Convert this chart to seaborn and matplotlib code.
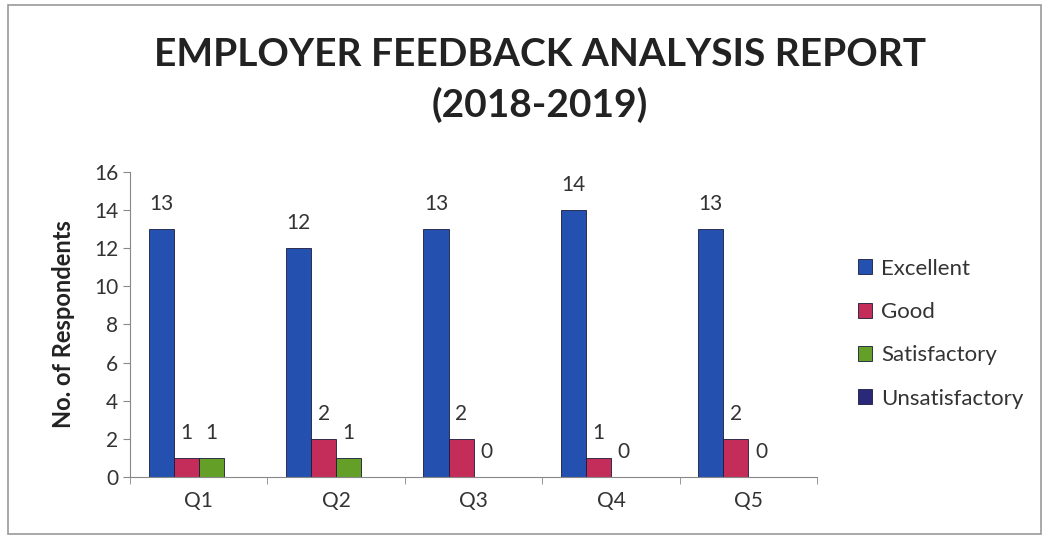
import numpy as np
import pandas as pd
import matplotlib
matplotlib.use("Agg")
import matplotlib.pyplot as plt
import seaborn as sns
from matplotlib.patches import Rectangle

questions = ["Q1", "Q2", "Q3", "Q4", "Q5"]
ratings = ["Excellent", "Good", "Satisfactory", "Unsatisfactory"]
excellent = [13, 12, 13, 14, 13]
good = [1, 2, 2, 1, 2]
satisfactory = [1, 1, 0, 0, 0]
unsatisfactory = [np.nan, np.nan, np.nan, np.nan, np.nan]

colors = ["#2450b0", "#c42c5a", "#64a028", "#2a2878"]

df = pd.DataFrame({
    "question": questions * 4,
    "rating": np.repeat(ratings, len(questions)),
    "count": excellent + good + satisfactory + unsatisfactory,
})

sns.set_style("white")
plt.rcParams["font.family"] = ["Lato", "DejaVu Sans"]

fig = plt.figure(figsize=(10.49, 5.39), dpi=100)
ax = fig.add_axes([0.124, 0.115, 0.655, 0.566])

sns.barplot(data=df, x="question", y="count", hue="rating", hue_order=ratings,
            palette=colors, saturation=1, errorbar=None, width=0.73, ax=ax,
            edgecolor="#1a1a3a", linewidth=0.6)

for cont in ax.containers:
    ax.bar_label(cont, fmt="%g", padding=11, fontsize=15, color="#333333")

ax.set_ylim(0, 16)
ax.set_yticks(range(0, 17, 2))
ax.set_xlim(-0.5, 4.5)
ax.set_xlabel("")
ax.set_ylabel("No. of Respondents", fontsize=17, fontweight="bold", color="#222222",
              labelpad=14)
ax.tick_params(axis="y", labelsize=15, colors="#333333", length=5, direction="out", left=True)
ax.tick_params(axis="x", labelsize=15, colors="#333333", length=0, pad=10)
ax.set_xticks(np.arange(-0.5, 5, 1), minor=True)
ax.tick_params(axis="x", which="minor", length=5, direction="out", bottom=True, color="#888888")
ax.tick_params(axis="y", color="#888888")
sns.despine(ax=ax)
for s in ["left", "bottom"]:
    ax.spines[s].set_color("#888888")

leg = ax.legend(loc="center left", bbox_to_anchor=(1.03, 0.47), frameon=False,
                fontsize=16, handlelength=0.65, handleheight=0.65, labelspacing=1.05,
                handletextpad=0.4)
for t in leg.get_texts():
    t.set_color("#333333")

fig.text(0.515, 0.898, "EMPLOYER FEEDBACK ANALYSIS REPORT", ha="center", va="center",
         fontsize=28, fontweight="bold", color="#222222")
fig.text(0.515, 0.805, "(2018-2019)", ha="center", va="center",
         fontsize=28, fontweight="bold", color="#222222")

fig.patches.append(Rectangle((0.008, 0.01), 0.984, 0.98, transform=fig.transFigure,
                             fill=False, edgecolor="#999999", linewidth=1.2))

fig.savefig("out.png", dpi=100)
